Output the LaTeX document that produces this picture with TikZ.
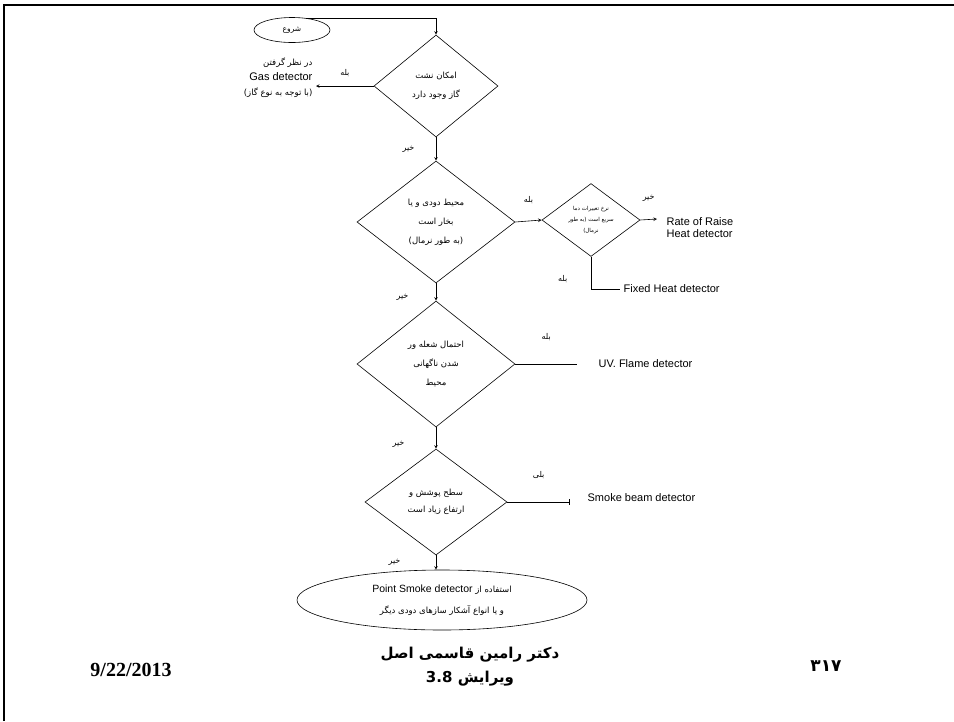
\documentclass[tikz,border=0pt]{standalone}
\usepackage{fontspec}
\setmainfont{Liberation Sans}
\newfontfamily\fa[Script=Arabic]{DejaVu Sans}
\newfontfamily\tms{Liberation Serif}
\TeXXeTstate=1
\newcommand{\rl}[1]{\beginR #1\endR}
\usetikzlibrary{shapes.geometric, arrows, arrows.meta, positioning}

\tikzset{
    dec/.style={diamond, draw, inner sep=0pt, align=center, font=\fa\fontsize{8.5}{19}\selectfont},
    lbl/.style={font=\fa\fontsize{8}{9}\selectfont},
    det/.style={font=\fontsize{11}{12}\selectfont, align=left, anchor=west},
}

\begin{document}
\begin{tikzpicture}[x=1pt, y=-1pt, >=stealth, line width=0.6pt]
    \useasboundingbox (0,0) rectangle (954,721);
    \draw[line width=2.5pt] (4,721) -- (4,5) -- (954,5);

    \node[ellipse, draw, minimum width=76, minimum height=25, inner sep=0pt, font=\fa\fontsize{7.5}{8}\selectfont] (start) at (292,30) {\rl{شروع}};
    \node[dec, minimum width=124, minimum height=102] (gas) at (436,86) {\rl{امکان نشت}\\ \rl{گاز وجود دارد}};
    \node[dec, minimum width=158, minimum height=122] (smoke) at (436,222) {\rl{محیط دودی و یا}\\ \rl{بخار است}\\ \rl{(به طور نرمال)}};
    \node[dec, minimum width=98, minimum height=72, font=\fa\fontsize{5.5}{11}\selectfont] (rate) at (591,220) {\rl{نرخ تغییرات دما}\\ \rl{سریع است (به طور}\\ \rl{نرمال)}};
    \node[dec, minimum width=158, minimum height=126] (flame) at (436,364) {\rl{احتمال شعله ور}\\ \rl{شدن ناگهانی}\\ \rl{محیط}};
    \node[dec, minimum width=142, minimum height=106, font=\fa\fontsize{8.5}{17}\selectfont] (high) at (436,502) {\rl{سطح پوشش و}\\ \rl{ارتفاع زیاد است}};
    \node[ellipse, draw, minimum width=290, minimum height=60, inner sep=0pt, align=center, font=\fa\fontsize{8.5}{21}\selectfont] (point) at (442,600)
        {\rl{استفاده از \beginL{\normalfont\fontsize{10.5}{12}\selectfont Point Smoke detector}\endL}\\ \rl{و یا انواع آشکار سازهای دودی دیگر}};

    % detectors
    \node[align=right, anchor=east, font=\fontsize{11}{15}\selectfont] (gasdet) at (316,78)
        {{\fa\fontsize{8.5}{9}\selectfont\rl{در نظر گرفتن}}\\ Gas detector\\ {\fa\fontsize{8.5}{9}\selectfont\rl{(با توجه به نوع گاز)}}};
    \node[det] (rrhd) at (663,228) {Rate of Raise\\Heat detector};
    \node[det] (fhd) at (620,289) {Fixed Heat detector};
    \node[det] (uv) at (595,364) {UV. Flame detector};
    \node[det] (beam) at (584,498) {Smoke beam detector};
    \coordinate (rrend) at (657,219);
    \coordinate (uvend) at (577,364);
    \coordinate (beamend) at (570,502);

    \draw[->] (start.40) -| (gas.north);
    \draw[->] (gas.west) -- node[lbl, above=6pt] {\rl{بله}} (gas.west -| gasdet.east);
    \draw[->] (gas.south) -- node[lbl, left=18pt] {\rl{خیر}} (smoke.north);
    \draw[->] (smoke.east) -- node[lbl, above=14pt] {\rl{بله}} (rate.west);
    \draw[->] (rate.east) -- node[lbl, above=14pt] {\rl{خیر}} (rrend);
    \draw (rate.south) |- node[lbl, pos=0.35, left=20pt] {\rl{بله}} (fhd.west);
    \draw[->] (smoke.south) -- node[lbl, left=24pt, pos=0.8] {\rl{خیر}} (flame.north);
    \draw (flame.east) -- node[lbl, above=20pt] {\rl{بله}} (uvend);
    \draw[->] (flame.south) -- node[lbl, left=28pt, pos=0.8] {\rl{خیر}} (high.north);
    \draw[-{Bar[width=6pt]}] (high.east) -- node[lbl, above=20pt] {\rl{بلی}} (beamend);
    \draw[->] (high.south) -- node[lbl, left=32pt] {\rl{خیر}} (high.south |- point.north);

    % footer
    \node[font=\fa\bfseries\fontsize{15}{24}\selectfont, align=center] (author) at (470,667) {\rl{دکتر رامین قاسمی اصل}\\ \rl{ویرایش \beginL 3.8\endL}};
    \node[font=\tms\bfseries\fontsize{20}{21}\selectfont] (date) at (131,670) {9/22/2013};
    \node[font=\fa\bfseries\fontsize{17}{18}\selectfont] (page) at (826,666) {۳۱۷};
\end{tikzpicture}
\end{document}
